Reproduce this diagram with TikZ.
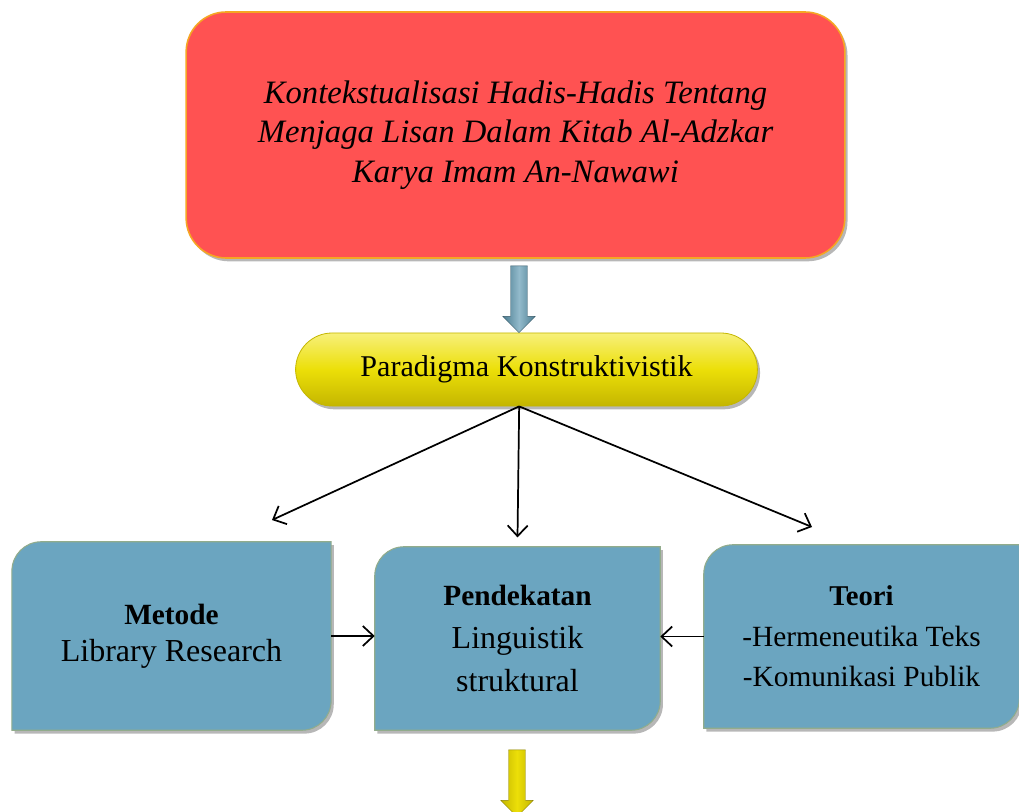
\documentclass[tikz,border=0pt]{standalone}
\usepackage{fontspec}
\setmainfont{Liberation Serif}
\usepackage{tikz}
\usetikzlibrary{arrows.meta,positioning,calc,shapes.arrows,shapes.misc,
                shadows,backgrounds}
\definecolor{judulmerah}{HTML}{FF5252}
\definecolor{judulgaris}{HTML}{F5A623}
\definecolor{kotakbiru}{HTML}{6BA5C0}
\definecolor{kotakgaris}{HTML}{92AC8C}
\definecolor{kuningterang}{HTML}{F7F07A}
\definecolor{kuningtengah}{HTML}{ECDF08}
\definecolor{kuninggelap}{HTML}{C4B600}
\definecolor{panahbiru}{HTML}{4B7C90}
\definecolor{panahbiruterang}{HTML}{92BACB}

\begin{document}
\begin{tikzpicture}[x=0.75pt,y=0.75pt,
    bayang/.style={drop shadow={shadow xshift=2pt,shadow yshift=-2.5pt,
                   opacity=0.4,fill=black!70}},
    garis/.style={line width=1.3pt,-{Straight Barb[length=8pt,width=15pt]}},
    panahblok/.style={single arrow,shape border rotate=270,minimum height=50pt,
                   inner xsep=6.2pt,inner ysep=0pt,single arrow head extend=5.8pt,
                   draw=#1!70!black,line width=0.3pt}]

  \useasboundingbox (0,0) rectangle (1019,-812);

  % Judul
  \node[bayang,draw=judulgaris,line width=1.2pt,fill=judulmerah,
        rounded corners=30pt,minimum width=494pt,minimum height=184.5pt,
        align=center,font=\fontsize{24.5}{29.6}\selectfont\itshape]
       (judul) at (515.5,-135)
       {Kontekstualisasi Hadis-Hadis Tentang\\
        Menjaga Lisan Dalam Kitab Al-Adzkar\\
        Karya Imam An-Nawawi};

  % Paradigma
  \node[bayang,rounded rectangle,minimum width=353pt,minimum height=54.75pt,
        draw=kuninggelap,line width=0.6pt,top color=kuningterang,
        bottom color=kuninggelap,middle color=kuningtengah,
        font=\fontsize{22.6}{26}\selectfont]
       (para) at (526.5,-369.5) {Paradigma Konstruktivistik};

  % Panah judul ke paradigma
  \node[panahblok=panahbiru,left color=panahbiru,right color=panahbiru,
        middle color=panahbiruterang]
       (panahatas) at (519,-295) {};

  % Kotak bawah
  \node[minimum width=239pt,minimum height=141pt,align=center,
        font=\fontsize{24}{27.75}\selectfont]
       (met) at (171.5,-636)
       {{\fontsize{22}{26}\selectfont\bfseries Metode}\\Library Research};
  \node[minimum width=213.75pt,minimum height=137.25pt,align=center,
        font=\fontsize{24}{32}\selectfont]
       (pend) at (517.5,-638.5)
       {{\fontsize{22}{26}\selectfont\bfseries Pendekatan}\\Linguistik\\struktural};
  \node[minimum width=236.25pt,minimum height=137.25pt,align=center,
        font=\fontsize{22}{30.5}\selectfont]
       (teo) at (861.5,-636.5)
       {{\fontsize{21.5}{26}\selectfont\bfseries Teori}\\-Hermeneutika Teks\\-Komunikasi Publik};

  \begin{scope}[on background layer]
    \foreach \k in {met,pend,teo} {
      \filldraw[bayang,fill=kotakbiru,draw=kotakgaris,line width=0.8pt]
        (\k.south west) -- ([yshift=-22pt]\k.north west)
        arc[start angle=180,end angle=90,radius=22pt] -- (\k.north east)
        -- ([yshift=22pt]\k.south east)
        arc[start angle=0,end angle=-90,radius=22pt] -- cycle;
    }
  \end{scope}

  % Cabang dari paradigma
  \coordinate (ujungkiri) at (272,-520);
  \coordinate (ujungkanan) at (812,-527);
  \draw[garis] ([xshift=-5.5pt]para.south) -- (ujungkiri);
  \draw[garis] ([xshift=-5.5pt]para.south) -- ([yshift=7pt]pend.north);
  \draw[garis] ([xshift=-5.5pt]para.south) -- (ujungkanan);

  \draw[garis] (met.east) -- (met.east -| pend.west);
  \draw[garis] (teo.west) -- (teo.west -| pend.east);

  % Panah ke bawah
  \node[panahblok=kuninggelap,left color=kuninggelap,right color=kuninggelap,
        middle color=kuningtengah]
       (panahbawah) at (517,-779) {};

\end{tikzpicture}
\end{document}
